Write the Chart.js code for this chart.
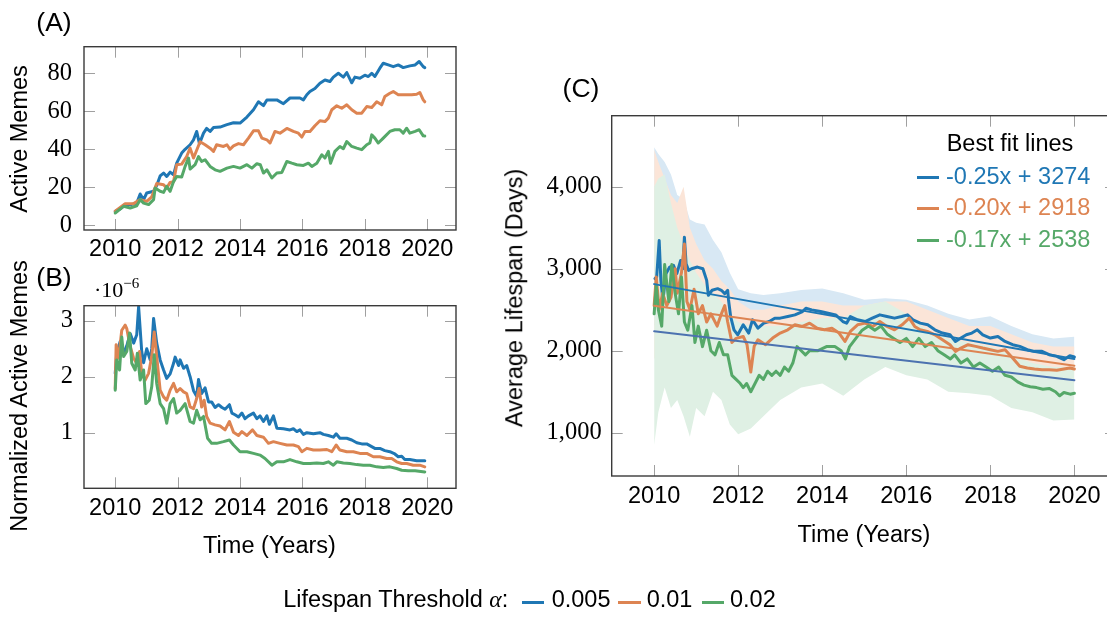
<!DOCTYPE html>
<html><head><meta charset="utf-8">
<script src="https://cdn.jsdelivr.net/npm/chart.js@4.4.0/dist/chart.umd.min.js"></script>
<style>
html,body{margin:0;padding:0;background:#fff;overflow:hidden;}
#wrap{position:relative;width:1107px;height:617px;overflow:hidden;background:#fff;}
canvas{position:absolute;left:0;top:0;}
.t{position:absolute;font-family:"Liberation Sans",Arial,sans-serif;color:#000;white-space:nowrap;line-height:1;}
.sw{position:absolute;height:3px;}
</style></head><body><div id="wrap">
<canvas id="cA" width="1130" height="617"></canvas>
<canvas id="cB" width="1130" height="617"></canvas>
<canvas id="cC" width="1130" height="617"></canvas>
</div>
<script>
// ---------- DATA ----------
const xTickYears = [2010, 2012, 2014, 2016, 2018, 2020];
const aTicks = [0, 20, 40, 60, 80];
const bTicks = [1, 2, 3];
const cTicks = [1000, 2000, 3000, 4000];
const seriesNames = ['0.005', '0.01', '0.02'];
const fitLabels = ['-0.25x + 3274', '-0.20x + 2918', '-0.17x + 2538'];

// Panel A: active memes [year, value]
const aBlue = [[2010.00,7.4],[2010.16,8.6],[2010.32,10.9],[2010.53,11.0],[2010.69,11.7],[2010.80,16.5],[2010.91,13.5],[2011.01,17.0],[2011.23,17.9],[2011.33,21.0],[2011.44,26.0],[2011.55,27.5],[2011.65,25.7],[2011.76,28.0],[2011.87,26.6],[2011.97,32.7],[2012.13,38.0],[2012.24,40.0],[2012.40,42.4],[2012.51,45.0],[2012.61,49.4],[2012.70,43.0],[2012.83,48.5],[2012.93,51.0],[2013.04,49.4],[2013.15,51.5],[2013.36,51.7],[2013.58,53.0],[2013.79,54.0],[2014.00,53.8],[2014.22,57.0],[2014.43,60.8],[2014.59,65.0],[2014.75,63.0],[2014.86,66.0],[2015.18,66.0],[2015.39,64.0],[2015.60,67.0],[2015.92,67.0],[2016.03,66.0],[2016.14,68.7],[2016.24,70.4],[2016.40,72.0],[2016.56,74.8],[2016.72,76.5],[2016.88,75.7],[2016.99,78.0],[2017.15,80.0],[2017.31,78.0],[2017.42,80.4],[2017.58,75.0],[2017.68,78.0],[2017.84,77.4],[2018.00,79.0],[2018.11,78.3],[2018.22,80.0],[2018.32,78.3],[2018.48,82.7],[2018.59,85.3],[2018.75,84.4],[2018.91,83.5],[2019.07,84.4],[2019.23,83.0],[2019.44,83.9],[2019.61,84.4],[2019.74,86.2],[2019.87,83.5],[2019.92,83.0]];
const aOrange = [[2010.00,7.4],[2010.32,11.4],[2010.59,11.4],[2010.80,13.5],[2011.01,12.6],[2011.17,15.0],[2011.33,22.0],[2011.55,21.4],[2011.65,19.6],[2011.76,22.6],[2011.87,23.0],[2011.97,31.9],[2012.13,32.2],[2012.29,36.2],[2012.40,40.6],[2012.51,35.4],[2012.72,44.0],[2012.88,42.4],[2013.04,40.6],[2013.15,38.9],[2013.25,42.4],[2013.47,41.5],[2013.58,42.4],[2013.68,40.0],[2013.79,41.8],[2013.95,43.0],[2014.11,42.4],[2014.27,45.9],[2014.43,49.7],[2014.59,49.7],[2014.70,45.9],[2014.86,45.0],[2014.96,43.3],[2015.12,49.4],[2015.28,48.5],[2015.50,51.0],[2015.71,49.4],[2015.87,48.5],[2015.98,46.4],[2016.08,49.4],[2016.24,49.4],[2016.40,52.4],[2016.56,55.0],[2016.72,54.6],[2016.83,56.4],[2016.94,60.8],[2017.10,62.9],[2017.26,61.6],[2017.42,63.4],[2017.58,60.8],[2017.74,59.0],[2017.90,59.0],[2018.06,62.5],[2018.22,62.0],[2018.38,65.0],[2018.54,63.4],[2018.64,67.8],[2018.80,69.5],[2018.91,70.4],[2019.07,68.7],[2019.28,68.7],[2019.50,68.7],[2019.66,69.0],[2019.76,69.9],[2019.87,66.0],[2019.92,65.0]];
const aGreen = [[2010.00,6.5],[2010.27,10.0],[2010.48,9.1],[2010.69,10.3],[2010.80,13.5],[2010.91,11.7],[2011.07,10.9],[2011.23,13.5],[2011.28,19.6],[2011.44,17.9],[2011.55,17.3],[2011.65,20.5],[2011.76,17.9],[2011.87,23.0],[2011.97,25.7],[2012.13,25.4],[2012.24,31.0],[2012.35,35.4],[2012.40,29.6],[2012.56,31.9],[2012.67,36.2],[2012.77,33.6],[2012.88,34.5],[2013.04,31.0],[2013.20,29.2],[2013.36,28.4],[2013.58,30.1],[2013.79,31.0],[2014.00,30.1],[2014.22,31.9],[2014.38,30.1],[2014.54,32.4],[2014.65,31.9],[2014.75,27.5],[2014.86,29.2],[2015.02,24.9],[2015.18,27.5],[2015.34,27.8],[2015.50,33.6],[2015.66,32.7],[2015.82,31.9],[2016.03,31.5],[2016.19,32.7],[2016.30,31.0],[2016.46,32.7],[2016.62,37.1],[2016.72,35.4],[2016.83,38.9],[2016.90,32.7],[2017.04,38.9],[2017.20,41.5],[2017.31,40.3],[2017.42,44.1],[2017.58,41.5],[2017.74,40.6],[2017.90,39.8],[2018.06,42.4],[2018.16,43.3],[2018.22,47.6],[2018.32,45.9],[2018.43,43.3],[2018.59,45.9],[2018.80,49.4],[2018.96,50.3],[2019.12,50.3],[2019.23,48.5],[2019.34,51.1],[2019.44,48.5],[2019.61,49.4],[2019.74,50.3],[2019.87,47.1],[2019.92,47.0]];

// Panel B: normalized active memes (x 1e-6) [year, value]
const bBlue = [[2010.00,2.06],[2010.05,2.42],[2010.16,2.63],[2010.27,2.42],[2010.37,2.55],[2010.48,2.77],[2010.59,2.60],[2010.69,2.75],[2010.75,3.25],[2010.85,2.45],[2010.91,2.25],[2011.01,2.50],[2011.12,2.30],[2011.17,2.50],[2011.23,3.04],[2011.33,2.60],[2011.44,2.30],[2011.55,2.12],[2011.65,1.97],[2011.76,2.05],[2011.87,2.24],[2011.92,2.35],[2012.03,2.20],[2012.08,2.30],[2012.19,2.15],[2012.29,2.20],[2012.40,2.00],[2012.51,1.75],[2012.61,1.65],[2012.67,1.95],[2012.77,1.70],[2012.88,1.80],[2012.99,1.55],[2013.09,1.55],[2013.20,1.45],[2013.31,1.50],[2013.42,1.45],[2013.52,1.42],[2013.66,1.50],[2013.74,1.35],[2013.84,1.32],[2013.95,1.28],[2014.06,1.35],[2014.16,1.25],[2014.27,1.30],[2014.43,1.35],[2014.54,1.25],[2014.64,1.30],[2014.75,1.20],[2014.86,1.30],[2014.94,1.15],[2015.07,1.30],[2015.18,1.08],[2015.39,1.07],[2015.60,1.05],[2015.71,1.07],[2015.82,1.02],[2015.92,1.05],[2016.03,0.97],[2016.14,1.00],[2016.35,0.98],[2016.56,1.00],[2016.67,0.97],[2016.83,0.95],[2016.99,0.92],[2017.08,0.98],[2017.20,0.90],[2017.42,0.90],[2017.58,0.87],[2017.74,0.82],[2017.90,0.80],[2018.06,0.80],[2018.16,0.77],[2018.32,0.72],[2018.48,0.72],[2018.64,0.68],[2018.80,0.66],[2018.96,0.62],[2019.07,0.57],[2019.18,0.58],[2019.28,0.52],[2019.44,0.52],[2019.66,0.50],[2019.92,0.50]];
const bOrange = [[2010.00,1.79],[2010.03,2.57],[2010.11,2.33],[2010.21,2.83],[2010.32,2.92],[2010.37,2.86],[2010.48,2.54],[2010.59,2.33],[2010.69,2.24],[2010.78,2.45],[2010.85,2.06],[2010.96,1.94],[2011.07,2.06],[2011.17,2.36],[2011.25,2.80],[2011.33,2.36],[2011.44,1.76],[2011.55,1.64],[2011.65,1.58],[2011.76,1.76],[2011.87,1.88],[2011.97,1.73],[2012.08,1.79],[2012.19,1.73],[2012.29,1.70],[2012.40,1.46],[2012.51,1.43],[2012.61,1.61],[2012.69,1.79],[2012.77,1.46],[2012.85,1.58],[2012.93,1.29],[2013.04,1.17],[2013.20,1.14],[2013.36,1.12],[2013.52,1.05],[2013.66,1.20],[2013.79,1.01],[2013.95,0.95],[2014.06,1.02],[2014.22,0.95],[2014.40,1.05],[2014.54,0.95],[2014.75,0.92],[2014.91,0.81],[2015.07,0.84],[2015.28,0.81],[2015.50,0.78],[2015.71,0.78],[2015.87,0.75],[2015.98,0.66],[2016.14,0.72],[2016.35,0.69],[2016.56,0.69],[2016.78,0.70],[2016.94,0.66],[2017.08,0.78],[2017.20,0.69],[2017.42,0.66],[2017.63,0.66],[2017.84,0.63],[2018.06,0.63],[2018.27,0.57],[2018.48,0.57],[2018.70,0.54],[2018.86,0.54],[2019.02,0.48],[2019.18,0.45],[2019.34,0.45],[2019.55,0.42],[2019.76,0.42],[2019.92,0.39]];
const bGreen = [[2010.00,1.76],[2010.05,2.30],[2010.14,2.12],[2010.21,2.71],[2010.27,2.36],[2010.37,2.45],[2010.46,2.78],[2010.53,2.24],[2010.64,2.12],[2010.71,2.42],[2010.80,1.94],[2010.91,2.12],[2010.98,1.52],[2011.09,1.58],[2011.17,1.82],[2011.25,2.39],[2011.33,1.88],[2011.44,1.52],[2011.55,1.43],[2011.65,1.17],[2011.76,1.52],[2011.87,1.61],[2011.97,1.35],[2012.08,1.40],[2012.24,1.52],[2012.40,1.20],[2012.51,1.17],[2012.61,1.40],[2012.72,1.23],[2012.83,1.29],[2012.96,0.90],[2013.09,0.81],[2013.25,0.81],[2013.47,0.84],[2013.66,0.87],[2013.79,0.78],[2014.00,0.66],[2014.22,0.66],[2014.43,0.63],[2014.64,0.60],[2014.80,0.54],[2015.02,0.42],[2015.18,0.48],[2015.39,0.48],[2015.60,0.52],[2015.82,0.48],[2016.03,0.45],[2016.24,0.45],[2016.46,0.46],[2016.67,0.45],[2016.83,0.48],[2016.99,0.42],[2017.10,0.48],[2017.31,0.46],[2017.52,0.45],[2017.74,0.43],[2017.95,0.42],[2018.16,0.42],[2018.38,0.39],[2018.59,0.38],[2018.80,0.39],[2019.02,0.36],[2019.18,0.33],[2019.39,0.32],[2019.61,0.32],[2019.92,0.30]];

// Panel C: average lifespan (days) [year, value]
const cBlue = [[2010.02,2879],[2010.06,2899],[2010.12,3344],[2010.16,2858],[2010.21,2615],[2010.28,2939],[2010.37,3020],[2010.46,3040],[2010.54,2939],[2010.63,3101],[2010.68,3000],[2010.72,3385],[2010.76,3061],[2010.82,2980],[2010.89,3000],[2011.03,3020],[2011.16,3000],[2011.25,2858],[2011.29,2676],[2011.38,2737],[2011.51,2757],[2011.60,2737],[2011.68,2696],[2011.75,2737],[2011.77,2619],[2011.82,2417],[2011.90,2255],[2011.99,2194],[2012.12,2316],[2012.25,2215],[2012.34,2377],[2012.47,2275],[2012.61,2336],[2012.74,2356],[2012.87,2397],[2013.00,2397],[2013.18,2417],[2013.35,2437],[2013.53,2478],[2013.61,2518],[2013.75,2498],[2013.96,2478],[2014.14,2457],[2014.32,2437],[2014.49,2356],[2014.58,2336],[2014.67,2417],[2014.84,2377],[2015.02,2356],[2015.19,2397],[2015.37,2437],[2015.54,2417],[2015.72,2397],[2015.89,2417],[2016.03,2437],[2016.16,2377],[2016.33,2336],[2016.51,2316],[2016.68,2255],[2016.86,2215],[2017.04,2194],[2017.17,2113],[2017.30,2154],[2017.43,2194],[2017.56,2215],[2017.69,2255],[2017.82,2194],[2018.00,2154],[2018.18,2174],[2018.35,2113],[2018.53,2073],[2018.70,2053],[2018.88,2012],[2019.05,1992],[2019.23,1992],[2019.40,1951],[2019.58,1931],[2019.75,1891],[2019.89,1939],[2020.00,1923]];
const cOrange = [[2010.00,2550],[2010.05,2900],[2010.12,2500],[2010.20,2700],[2010.30,2550],[2010.40,2650],[2010.50,3000],[2010.55,2700],[2010.65,2950],[2010.72,3300],[2010.78,2600],[2010.85,2500],[2010.95,2750],[2011.05,2450],[2011.15,2550],[2011.25,2350],[2011.35,2450],[2011.50,2300],[2011.60,2450],[2011.68,2550],[2011.75,2350],[2011.85,2100],[2011.95,2150],[2012.12,2174],[2012.21,2073],[2012.30,1740],[2012.38,2053],[2012.47,2134],[2012.65,2073],[2012.82,2154],[2013.00,2215],[2013.18,2255],[2013.35,2316],[2013.53,2296],[2013.70,2336],[2013.88,2275],[2014.05,2255],[2014.23,2275],[2014.40,2215],[2014.54,2113],[2014.67,2235],[2014.84,2316],[2015.02,2336],[2015.20,2296],[2015.37,2356],[2015.54,2296],[2015.72,2255],[2015.90,2316],[2016.07,2397],[2016.20,2296],[2016.33,2255],[2016.50,2235],[2016.68,2194],[2016.86,2134],[2017.04,2073],[2017.17,1992],[2017.30,2032],[2017.47,2073],[2017.65,2053],[2017.82,2032],[2018.00,2012],[2018.18,1992],[2018.35,2012],[2018.53,1911],[2018.70,1810],[2018.88,1789],[2019.05,1777],[2019.23,1769],[2019.40,1769],[2019.58,1761],[2019.75,1777],[2019.89,1789],[2020.00,1777]];
const cGreen = [[2010.00,2450],[2010.05,2800],[2010.10,2500],[2010.18,2300],[2010.25,3050],[2010.35,2600],[2010.42,3050],[2010.50,2700],[2010.58,2450],[2010.65,2900],[2010.72,2350],[2010.80,2250],[2010.90,2550],[2010.97,2100],[2011.05,2300],[2011.15,2050],[2011.25,2250],[2011.35,2000],[2011.45,1950],[2011.55,2100],[2011.65,1950],[2011.75,1950],[2011.85,1700],[2011.95,1650],[2012.05,1600],[2012.12,1550],[2012.20,1600],[2012.30,1500],[2012.40,1600],[2012.50,1700],[2012.60,1650],[2012.70,1750],[2012.80,1700],[2012.90,1750],[2013.00,1700],[2013.10,1800],[2013.20,1750],[2013.30,1850],[2013.40,2050],[2013.50,2000],[2013.60,1950],[2013.70,2000],[2013.90,2000],[2014.10,2050],[2014.30,2050],[2014.45,2000],[2014.55,1900],[2014.65,2050],[2014.80,2150],[2014.95,2250],[2015.10,2300],[2015.25,2250],[2015.40,2300],[2015.55,2200],[2015.70,2150],[2015.85,2100],[2016.00,2150],[2016.15,2050],[2016.30,2150],[2016.45,2050],[2016.60,2100],[2016.75,2000],[2016.90,1950],[2017.05,1900],[2017.15,1950],[2017.30,1850],[2017.45,1900],[2017.60,1800],[2017.75,1850],[2017.90,1800],[2018.05,1750],[2018.20,1800],[2018.35,1700],[2018.50,1680],[2018.65,1620],[2018.80,1580],[2018.95,1560],[2019.10,1550],[2019.25,1530],[2019.40,1540],[2019.55,1500],[2019.65,1450],[2019.75,1490],[2019.90,1470],[2020.00,1480]];

// Panel C: shaded spread bands
const bandT = [2010.0,2010.1,2010.25,2010.4,2010.55,2010.7,2010.85,2011.0,2011.2,2011.4,2011.6,2011.8,2012.0,2012.3,2012.6,2013.0,2013.5,2014.0,2014.5,2015.0,2015.5,2016.0,2016.5,2017.0,2017.5,2018.0,2018.5,2019.0,2019.5,2020.0];
const bandBlueHi = [4480,4400,4300,4150,3900,3850,3600,3560,3540,3350,3200,2950,2750,2700,2680,2700,2740,2760,2700,2620,2640,2620,2550,2450,2380,2420,2300,2200,2150,2170];
const bandBlueLo = [2300,2400,2400,2500,2500,2500,2500,2500,2450,2350,2300,2150,2050,2100,2150,2200,2250,2250,2200,2200,2200,2200,2100,2000,2000,1950,1900,1850,1800,1800];
const bandOrangeHi = [4450,4300,4100,3900,3800,4000,3500,3300,3100,3000,2850,2750,2600,2500,2500,2550,2600,2600,2550,2550,2600,2600,2500,2400,2300,2300,2200,2100,2050,2050];
const bandOrangeLo = [1900,2000,1900,1900,2000,1900,1900,1950,1900,1850,1800,1700,1700,1750,1800,1900,1950,2000,2000,2000,2050,2000,1950,1900,1850,1800,1700,1650,1600,1600];
const bandGreenHi = [4000,4100,4150,3800,3500,3300,3100,2950,2800,2700,2600,2450,2350,2300,2300,2300,2350,2400,2400,2550,2600,2450,2250,2150,2100,2050,1950,1850,1800,1800];
const bandGreenLo = [850,1250,1550,1300,1400,1200,950,1300,1200,1500,1400,1100,980,1050,1200,1400,1550,1600,1450,1650,1800,1700,1650,1500,1480,1450,1300,1250,1150,1160];

// Panel C: best-fit line end points
const fitYears = [2010, 2020];
const fitBlue = [2812, 1900];
const fitOrange = [2547, 1817];
const fitGreen = [2236, 1640];

// ---------- STYLE ----------
const BLUE = '#1f77b4', ORANGE = '#dd8452', GREEN = '#55a868', FIT3 = '#4c72b0';
const SANS = '"Liberation Sans", Arial, sans-serif';
const SERIF = '"Liberation Serif", "Times New Roman", serif';

const pairs = arr => arr.map(p => ({x: p[0], y: p[1]}));
const zipT = (t, v) => t.map((x, i) => ({x, y: v[i]}));

const framePlugin = {
  id: 'frame',
  beforeDatasetsDraw(chart) {
    const {ctx, chartArea: a, scales: {x, y}} = chart;
    const L = 11;
    ctx.save();
    ctx.strokeStyle = '#a0a0a0'; ctx.lineWidth = 1;
    ctx.beginPath();
    x.ticks.forEach(t => {
      const p = Math.round(x.getPixelForValue(t.value)) + 0.5;
      ctx.moveTo(p, a.bottom); ctx.lineTo(p, a.bottom - L);
      ctx.moveTo(p, a.top); ctx.lineTo(p, a.top + L);
    });
    y.ticks.forEach(t => {
      const p = Math.round(y.getPixelForValue(t.value)) + 0.5;
      ctx.moveTo(a.left, p); ctx.lineTo(a.left + L, p);
      ctx.moveTo(a.right, p); ctx.lineTo(a.right - L, p);
    });
    ctx.stroke();
    ctx.restore();
  },
  afterDatasetsDraw(chart) {
    const {ctx, chartArea: a} = chart;
    ctx.save();
    ctx.strokeStyle = '#3a3a3a'; ctx.lineWidth = 1.4;
    ctx.strokeRect(a.left, a.top, a.right - a.left, a.bottom - a.top);
    ctx.restore();
  }
};

// order: lower numbers are drawn on top
function lineDs(data, color, w, order) {
  return {data, order, borderColor: color, borderWidth: w, pointRadius: 0, fill: false, tension: 0,
          borderJoinStyle: 'round', borderCapStyle: 'round'};
}
function bandDs(t, lo, hi, col, order) {
  return [
    {data: zipT(t, lo), order: order + 1, borderWidth: 0, borderColor: 'rgba(0,0,0,0)', pointRadius: 0, fill: false},
    {data: zipT(t, hi), order, borderWidth: 0, borderColor: 'rgba(0,0,0,0)', pointRadius: 0, fill: '-1', backgroundColor: col}
  ];
}

function mk(id, c) {
  const yW = c.yW, xH = 45;
  return new Chart(document.getElementById(id), {
    type: 'line',
    data: {datasets: c.datasets},
    options: {
      responsive: false, animation: false, devicePixelRatio: 1, events: [],
      layout: {padding: {left: c.area.l - yW, top: c.area.t, right: 1130 - c.area.r, bottom: 617 - c.area.b - xH}},
      plugins: {legend: {display: false}, tooltip: {enabled: false}},
      scales: {
        x: {type: 'linear', min: c.xMin, max: c.xMax,
            afterBuildTicks: s => { s.ticks = xTickYears.map(v => ({value: v})); },
            afterFit: s => { s.height = xH; },
            grid: {display: false, drawTicks: false}, border: {display: false},
            ticks: {padding: c.xPad, autoSkip: false, maxRotation: 0, color: '#000',
                    font: {family: SANS, size: 23.5}, callback: v => String(v)}},
        y: {type: 'linear', min: c.yMin, max: c.yMax,
            afterBuildTicks: s => { s.ticks = c.yTicks.map(v => ({value: v})); },
            afterFit: s => { s.width = yW; },
            grid: {display: false, drawTicks: false}, border: {display: false},
            ticks: {padding: c.yPad, color: '#000', font: {family: SERIF, size: 24.5}, callback: c.yFmt}}
      }
    },
    plugins: [framePlugin]
  });
}

mk('cA', {
  area: {l: 84, r: 456, t: 46.7, b: 230}, yW: 70,
  xMin: 2009.0, xMax: 2020.92, yMin: -2.47, yMax: 94.0, yTicks: aTicks,
  xPad: 5, yPad: 12, yFmt: v => String(v),
  datasets: [lineDs(pairs(aBlue), BLUE, 3, 3), lineDs(pairs(aOrange), ORANGE, 3, 2), lineDs(pairs(aGreen), GREEN, 3, 1)]
});
mk('cB', {
  area: {l: 84, r: 456, t: 305.7, b: 488.3}, yW: 70,
  xMin: 2009.0, xMax: 2020.92, yMin: 0.007, yMax: 3.268, yTicks: bTicks,
  xPad: 6, yPad: 11, yFmt: v => String(v),
  datasets: [lineDs(pairs(bBlue), BLUE, 3, 3), lineDs(pairs(bOrange), ORANGE, 3, 2), lineDs(pairs(bGreen), GREEN, 3, 1)]
});
mk('cC', {
  area: {l: 611.7, r: 1116, t: 115.7, b: 476}, yW: 100,
  xMin: 2008.99, xMax: 2020.99, yMin: 472, yMax: 4866, yTicks: cTicks,
  xPad: 6.5, yPad: 10, yFmt: v => v.toLocaleString('en-US'),
  datasets: [
    ...bandDs(bandT, bandBlueLo, bandBlueHi, 'rgb(216,232,244)', 30),
    ...bandDs(bandT, bandOrangeLo, bandOrangeHi, 'rgb(251,229,216)', 20),
    ...bandDs(bandT, bandGreenLo, bandGreenHi, 'rgb(223,240,228)', 10),
    lineDs(pairs(cBlue), BLUE, 3, 6), lineDs(pairs(cOrange), ORANGE, 3, 5), lineDs(pairs(cGreen), GREEN, 3, 4),
    lineDs(zipT(fitYears, fitBlue), BLUE, 2, 2), lineDs(zipT(fitYears, fitOrange), ORANGE, 2, 1), lineDs(zipT(fitYears, fitGreen), FIT3, 2, 0)
  ]
});

// ---------- TEXT ----------
const wrap = document.getElementById('wrap');
function txt(html, x, y, o = {}) {
  const d = document.createElement('div');
  d.className = 't';
  d.innerHTML = html;
  d.style.left = x + 'px'; d.style.top = y + 'px';
  d.style.fontSize = (o.size || 23.5) + 'px';
  if (o.color) d.style.color = o.color;
  if (o.family) d.style.fontFamily = o.family;
  let tr = o.left ? 'translate(0,-50%)' : 'translate(-50%,-50%)';
  if (o.rot) tr += ' rotate(-90deg)';
  d.style.transform = tr;
  wrap.appendChild(d);
  return d;
}
function sw(x1, x2, y, color) {
  const d = document.createElement('div');
  d.className = 'sw';
  d.style.left = x1 + 'px'; d.style.width = (x2 - x1) + 'px';
  d.style.top = (y - 1.5) + 'px'; d.style.background = color;
  wrap.appendChild(d);
}

txt('(A)', 54, 21.7, {size: 26.5});
txt('(B)', 54, 276.5, {size: 26.5});
txt('(C)', 581, 88.3, {size: 26.5});
txt('Active Memes', 19.7, 139, {rot: true});
txt('Normalized Active Memes', 20, 395.5, {rot: true});
txt('Average Lifespan (Days)', 515, 297.5, {rot: true});
txt('Time (Years)', 269.5, 546);
txt('Time (Years)', 864, 535);
txt('·10<span style="font-size:15px;position:relative;top:-9px;">−6</span>', 94, 290, {left: true, size: 22, family: SERIF});

// legend C
txt('Best fit lines', 1010, 144);
const fitColors = [BLUE, ORANGE, GREEN];
const fitYs = [176.7, 208.3, 240];
fitLabels.forEach((s, i) => {
  sw(916.6, 938.7, fitYs[i] + 0.6, fitColors[i]);
  txt(s, 946, fitYs[i], {left: true, color: fitColors[i]});
});

// bottom legend
txt('Lifespan Threshold <span style="font-family:' + SERIF.replace(/"/g, "'") + ';font-style:italic;">α</span>:', 283.3, 600, {left: true});
const legX = [[521.7, 544, 551.7], [618, 640.7, 646.7], [701.7, 724, 730]];
seriesNames.forEach((s, i) => {
  sw(legX[i][0], legX[i][1], 602.3, fitColors[i]);
  txt(s, legX[i][2], 600, {left: true});
});
</script>
</body></html>
